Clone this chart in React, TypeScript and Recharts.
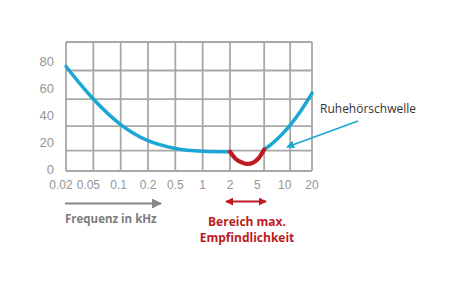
import React from 'react';
import { LineChart, Line, XAxis, YAxis, ReferenceLine } from 'recharts';

// Frequency axis (category positions 0..9) and labels in kHz
const freqLabels = ['0.02', '0.05', '0.1', '0.2', '0.5', '1', '2', '5', '10', '20'];
const freqTickPos = [0, 1, 2, 3, 4, 5, 6, 7, 8, 9];
// Vertical grid lines (as drawn in the figure)
const gridX = [0, 1, 2, 3, 4, 5, 6, 7.25, 8.2, 9];
// Level axis (dB)
const levelTicks = [0, 20, 40, 60, 80];
const gridY = [-1, 14, 32, 52, 73, 94];

// Hearing threshold (Ruhehörschwelle), low-frequency part
const thresholdLowX = [0, 0.5, 1, 2, 3, 4, 5, 6];
const thresholdLowDb = [76, 63.5, 52, 33.2, 21.3, 15.6, 13.6, 13.2];
// Range of maximum sensitivity (2–5 kHz)
const sensitiveX = [6, 6.2, 6.45, 6.65, 6.85, 7.05, 7.25];
const sensitiveDb = [13.2, 8.1, 5.2, 4.2, 5.2, 8.5, 14.9];
// Hearing threshold, high-frequency part
const thresholdHighX = [7.25, 7.45, 7.7, 8.2, 8.6, 9];
const thresholdHighDb = [14.9, 17.7, 22.0, 32.8, 43.6, 56.4];

const toRows = (xs: number[], ys: number[]) => xs.map((f, i) => ({ f, db: ys[i] }));
const lowData = toRows(thresholdLowX, thresholdLowDb);
const sensData = toRows(sensitiveX, sensitiveDb);
const highData = toRows(thresholdHighX, thresholdHighDb);

const BLUE = '#1ca6d3';
const RED = '#be1a21';
const GRID = '#a8a8a8';
const LABEL = '#959595';

const FreqTick = (props: any) => {
  const { x, y, payload } = props;
  const idx = freqTickPos.indexOf(payload.value);
  const nudge = idx === 0 ? -5 : idx === 1 ? -5 : idx === 2 ? -2 : 0;
  return (
    <text
      x={x + nudge}
      y={y}
      dy="0.71em"
      textAnchor="middle"
      fill={LABEL}
      fontSize={12}
      fontFamily="Liberation Sans, Arial, sans-serif"
    >
      {freqLabels[idx]}
    </text>
  );
};

export default function App() {
  return (
    <div style={{ position: 'absolute', left: 0, top: 0, width: 454, height: 291, background: '#fff' }}>
      <LineChart width={454} height={291} margin={{ top: 42, right: 142, bottom: 90, left: 0 }}>
        <XAxis
          dataKey="f"
          type="number"
          domain={[0, 9]}
          ticks={freqTickPos}
          tick={<FreqTick />}
          tickLine={false}
          axisLine={false}
          tickSize={0}
          tickMargin={9}
          height={30}
        />
        <YAxis
          type="number"
          domain={[-1, 94]}
          ticks={levelTicks}
          tickLine={false}
          axisLine={false}
          tickSize={0}
          tickMargin={12}
          width={66}
          tick={{ fill: LABEL, fontSize: 13, fontFamily: 'Liberation Sans, Arial, sans-serif' }}
        />
        {gridY.map((v) => (
          <ReferenceLine key={'h' + v} y={v} stroke={GRID} strokeWidth={1.8} />
        ))}
        {gridX.map((v) => (
          <ReferenceLine key={'v' + v} x={v} stroke={GRID} strokeWidth={1.8} />
        ))}
        <Line data={lowData} dataKey="db" type="monotone" stroke={BLUE} strokeWidth={3.5} dot={false} isAnimationActive={false} strokeLinecap="round" />
        <Line data={highData} dataKey="db" type="monotone" stroke={BLUE} strokeWidth={3.5} dot={false} isAnimationActive={false} strokeLinecap="round" />
        <Line data={sensData} dataKey="db" type="monotone" stroke={RED} strokeWidth={4.2} dot={false} isAnimationActive={false} strokeLinecap="round" />
      </LineChart>
      <svg width={454} height={291} style={{ position: 'absolute', left: 0, top: 0, pointerEvents: 'none' }}>
        <defs>
          <marker id="blueHead" viewBox="0 0 10 10" refX="9" refY="5" markerWidth="5" markerHeight="5" orient="auto">
            <path d="M0,0 L10,5 L0,10 z" fill={BLUE} />
          </marker>
          <marker id="greyHead" viewBox="0 0 10 10" refX="9" refY="5" markerWidth="5" markerHeight="5" orient="auto">
            <path d="M0,0 L10,5 L0,10 z" fill="#888" />
          </marker>
          <marker id="redHead" viewBox="0 0 10 10" refX="9" refY="5" markerWidth="4" markerHeight="4" orient="auto-start-reverse">
            <path d="M0,0 L10,5 L0,10 z" fill={RED} />
          </marker>
        </defs>
        <text x={320} y={112.5} fontSize={12} fill="#333" fontFamily="Open Sans, sans-serif">Ruhehörschwelle</text>
        <line x1={358} y1={121} x2={287} y2={147} stroke={BLUE} strokeWidth={1.6} markerEnd="url(#blueHead)" />
        <line x1={65} y1={203.5} x2={161} y2={203.5} stroke="#888" strokeWidth={2} markerEnd="url(#greyHead)" />
        <text x={65} y={222.5} fontSize={11.5} fontWeight="bold" fill="#7c7c7c" fontFamily="Open Sans, sans-serif">Frequenz in kHz</text>
        <line x1={226} y1={201.5} x2={266} y2={201.5} stroke={RED} strokeWidth={2} markerStart="url(#redHead)" markerEnd="url(#redHead)" />
        <text x={247} y={225.5} textAnchor="middle" fontSize={12} fontWeight="bold" fill={RED} fontFamily="Open Sans, sans-serif">Bereich max.</text>
        <text x={247} y={241.5} textAnchor="middle" fontSize={12} fontWeight="bold" fill={RED} fontFamily="Open Sans, sans-serif">Empfindlichkeit</text>
      </svg>
    </div>
  );
}
